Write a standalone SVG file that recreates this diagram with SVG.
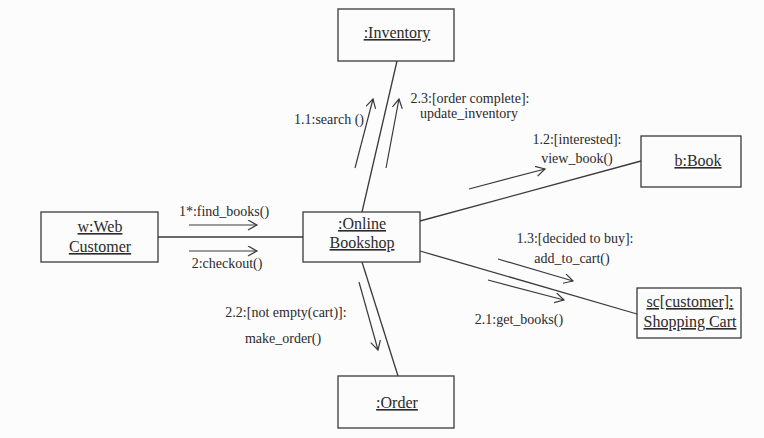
<svg xmlns="http://www.w3.org/2000/svg" width="764" height="438" viewBox="0 0 764 438">
<defs>
<style>
.box{fill:#fcfcfc;stroke:#3a3a3a;stroke-width:1.3}
.link{stroke:#3a3a3a;stroke-width:1.3;fill:none}
.msg{stroke:#3a3a3a;stroke-width:1.2;fill:none;marker-end:url(#arr)}
.obj{font-size:16px;fill:#2a2a2a;text-anchor:middle;text-decoration:underline}
.lbl{font-size:14px;fill:#2a2a2a;text-anchor:middle}
</style>
<marker id="arr" markerWidth="12" markerHeight="12" refX="10" refY="5" orient="auto" markerUnits="userSpaceOnUse">
<path d="M1,0 L10,5 L1,10" fill="none" stroke="#3a3a3a" stroke-width="1.2"/>
</marker>
</defs>
<rect width="764" height="438" fill="#fcfcfc"/>
<g font-family="'Liberation Serif', 'Times New Roman', 'DejaVu Serif', serif">
<g id="connectors">
<line class="link" x1="158" y1="237" x2="303" y2="237"/>
<line class="link" x1="397" y1="61" x2="362" y2="212"/>
<line class="link" x1="420" y1="221" x2="641" y2="161"/>
<line class="link" x1="420" y1="251" x2="637" y2="314"/>
<line class="link" x1="362" y1="262" x2="398" y2="376"/>
<line class="msg" x1="189" y1="225" x2="257" y2="225"/>
<line class="msg" x1="189" y1="251" x2="257" y2="251"/>
<line class="msg" x1="355" y1="168" x2="373" y2="99"/>
<line class="msg" x1="386" y1="168" x2="399" y2="99"/>
<line class="msg" x1="469" y1="189" x2="545" y2="169"/>
<line class="msg" x1="498" y1="259" x2="573" y2="281"/>
<line class="msg" x1="488" y1="280" x2="564" y2="300"/>
<line class="msg" x1="359" y1="282" x2="378" y2="350"/>
<text class="lbl" x="224" y="216">1*:find_books()</text>
<text class="lbl" x="227" y="268">2:checkout()</text>
<text class="lbl" x="329" y="124">1.1:search ()</text>
<text class="lbl" x="470" y="103">2.3:[order complete]:</text>
<text class="lbl" x="469" y="118">update_inventory</text>
<text class="lbl" x="577" y="144">1.2:[interested]:</text>
<text class="lbl" x="577" y="163">view_book()</text>
<text class="lbl" x="575" y="243">1.3:[decided to buy]:</text>
<text class="lbl" x="572" y="263">add_to_cart()</text>
<text class="lbl" x="519" y="324">2.1:get_books()</text>
<text class="lbl" x="286" y="317">2.2:[not empty(cart)]:</text>
<text class="lbl" x="283" y="343">make_order()</text>
</g>
<g id="webcustomer">
<rect class="box" x="41" y="212" width="117" height="50"/>
<text class="obj" x="100" y="232">w:Web</text>
<text class="obj" x="100" y="252">Customer</text>
</g>
<g id="onlinebookshop">
<rect class="box" x="303" y="212" width="117" height="50"/>
<text class="obj" x="362" y="229">:Online</text>
<text class="obj" x="362" y="248">Bookshop</text>
</g>
<g id="inventory">
<rect class="box" x="338" y="9" width="116" height="52"/>
<text class="obj" x="397" y="38">:Inventory</text>
</g>
<g id="book">
<rect class="box" x="641" y="136" width="100" height="51"/>
<text class="obj" x="698" y="166">b:Book</text>
</g>
<g id="shoppingcart">
<rect class="box" x="637" y="288" width="104" height="50"/>
<text class="obj" x="690" y="307">sc[customer]:</text>
<text class="obj" x="690" y="327">Shopping Cart</text>
</g>
<g id="order">
<rect class="box" x="338" y="376" width="116" height="52"/>
<text class="obj" x="397" y="408">:Order</text>
</g>
</g>
</svg>
